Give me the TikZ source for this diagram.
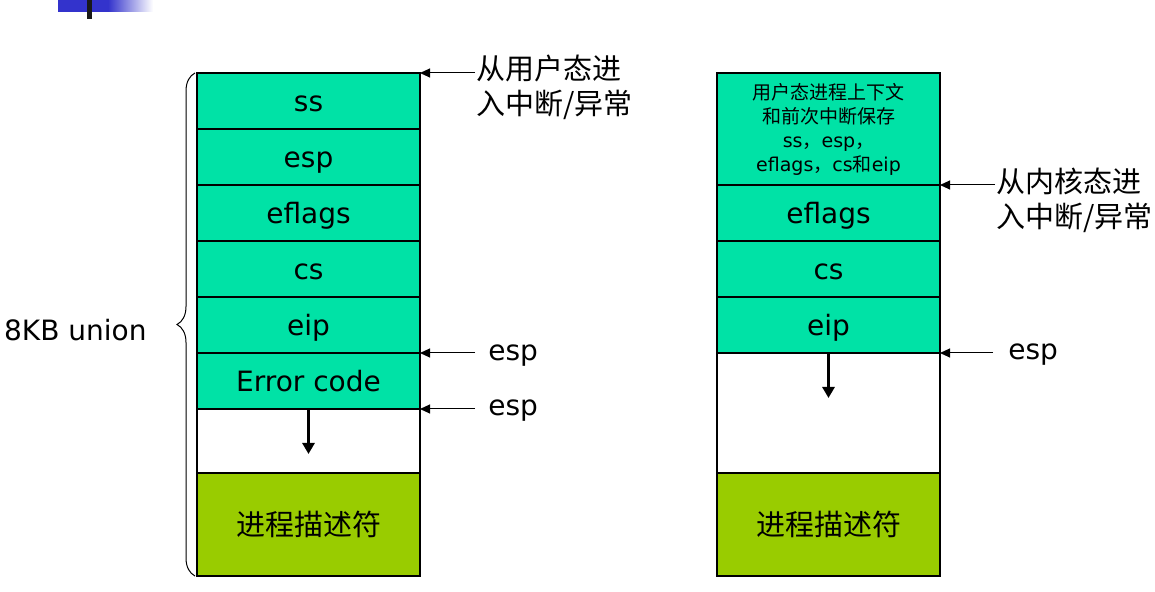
\documentclass[tikz,border=0pt]{standalone}
\usepackage{fontspec}
\setmainfont{DejaVu Sans}
\newfontfamily\cjk{Noto Sans CJK SC}
\usetikzlibrary{arrows.meta}
\usetikzlibrary{positioning}
\usetikzlibrary{decorations.pathreplacing}
\definecolor{stackgreen}{RGB}{0,226,166}
\definecolor{pcbgreen}{RGB}{153,204,0}
\definecolor{barblue}{RGB}{51,51,204}
\tikzset{
box/.style={draw,line width=0.75pt,minimum width=111.5pt,inner sep=0pt,outer sep=0pt},
cell/.style={box,fill=stackgreen,minimum height=28pt,font=\fontsize{14}{17}\selectfont,text height=11pt,text depth=0pt},
gap/.style={box,fill=white,minimum height=#1},
pcb/.style={box,fill=pcbgreen,minimum height=51.5pt,font=\cjk\fontsize{14.5}{17}\selectfont},
ptr/.style={-{Triangle[length=5pt,width=4.5pt]},line width=0.5pt},
growarrow/.style={-{Triangle[length=5.5pt,width=6pt]},line width=1.5pt},
lbl/.style={font=\fontsize{14}{17}\selectfont,inner sep=0pt},
cn/.style={font=\cjk\fontsize{14.5}{17.5}\selectfont,align=left,anchor=west,inner sep=0pt}
}
\begin{document}
\begin{tikzpicture}[x=0.5pt,y=-0.5pt]
\useasboundingbox (0,0) rectangle (1155,592);

% title bar
\fill[barblue] (58,0) rectangle (108,12);
\shade[left color=barblue,right color=white] (108,0) rectangle (153,12);
\fill[black!90] (87,0) rectangle (92,19);

% user mode entry
\node[cell] (lss) at (308.5,101) {ss};
\node[cell,below=0pt of lss] (lesp) {esp};
\node[cell,below=0pt of lesp] (lefl) {eflags};
\node[cell,below=0pt of lefl] (lcs) {cs};
\node[cell,below=0pt of lcs] (leip) {eip};
\node[cell,below=0pt of leip] (lerr) {Error code};
\node[gap=32pt,below=0pt of lerr] (lfree) {};
\node[pcb,below=0pt of lfree] (lpcb) {进程描述符};
\draw[decorate,decoration={brace,amplitude=9pt,raise=1pt},line width=0.5pt] (lpcb.south west) -- (lss.north west);
\node[lbl,anchor=east] (union) at (147,330) {8KB union};

\node[cn] (uentry) at (476,87) {从用户态进\\入中断/异常};
\coordinate[right=27.5pt of lss.north east] (uin);
\draw[ptr] (uin) -- (lss.north east);
\coordinate[right=27.5pt of leip.south east] (e1);
\node[lbl,anchor=base west] (esp1) at (488,361) {esp};
\draw[ptr] (e1) -- (leip.south east);
\coordinate[right=27.5pt of lerr.south east] (e2);
\node[lbl,anchor=base west] (esp2) at (488,416) {esp};
\draw[ptr] (e2) -- (lerr.south east);
\coordinate[below=22.5pt of lerr.south] (lgrow);
\draw[growarrow] (lerr.south) -- (lgrow);

% kernel mode entry
\node[box,fill=stackgreen,minimum height=56pt,align=center,font=\fontsize{9.5}{12}\selectfont] (rctx) at (828.5,129) {{\cjk 用户态进程上下文}\\{\cjk 和前次中断保存}\\ss{\cjk ，}esp{\cjk ，}\\eflags{\cjk ，}cs{\cjk 和}eip};
\node[cell,below=0pt of rctx] (refl) {eflags};
\node[cell,below=0pt of refl] (rcs) {cs};
\node[cell,below=0pt of rcs] (reip) {eip};
\node[gap=60pt,below=0pt of reip] (rfree) {};
\node[pcb,below=0pt of rfree] (rpcb) {进程描述符};

\node[cn] (kentry) at (996,200) {从内核态进\\入中断/异常};
\coordinate[right=27.5pt of rctx.south east] (kin);
\draw[ptr] (kin) -- (rctx.south east);
\coordinate[right=26.5pt of reip.south east] (e3);
\node[lbl,anchor=base west] (esp3) at (1008,360) {esp};
\draw[ptr] (e3) -- (reip.south east);
\coordinate[below=22.5pt of reip.south] (rgrow);
\draw[growarrow] (reip.south) -- (rgrow);
\end{tikzpicture}
\end{document}
